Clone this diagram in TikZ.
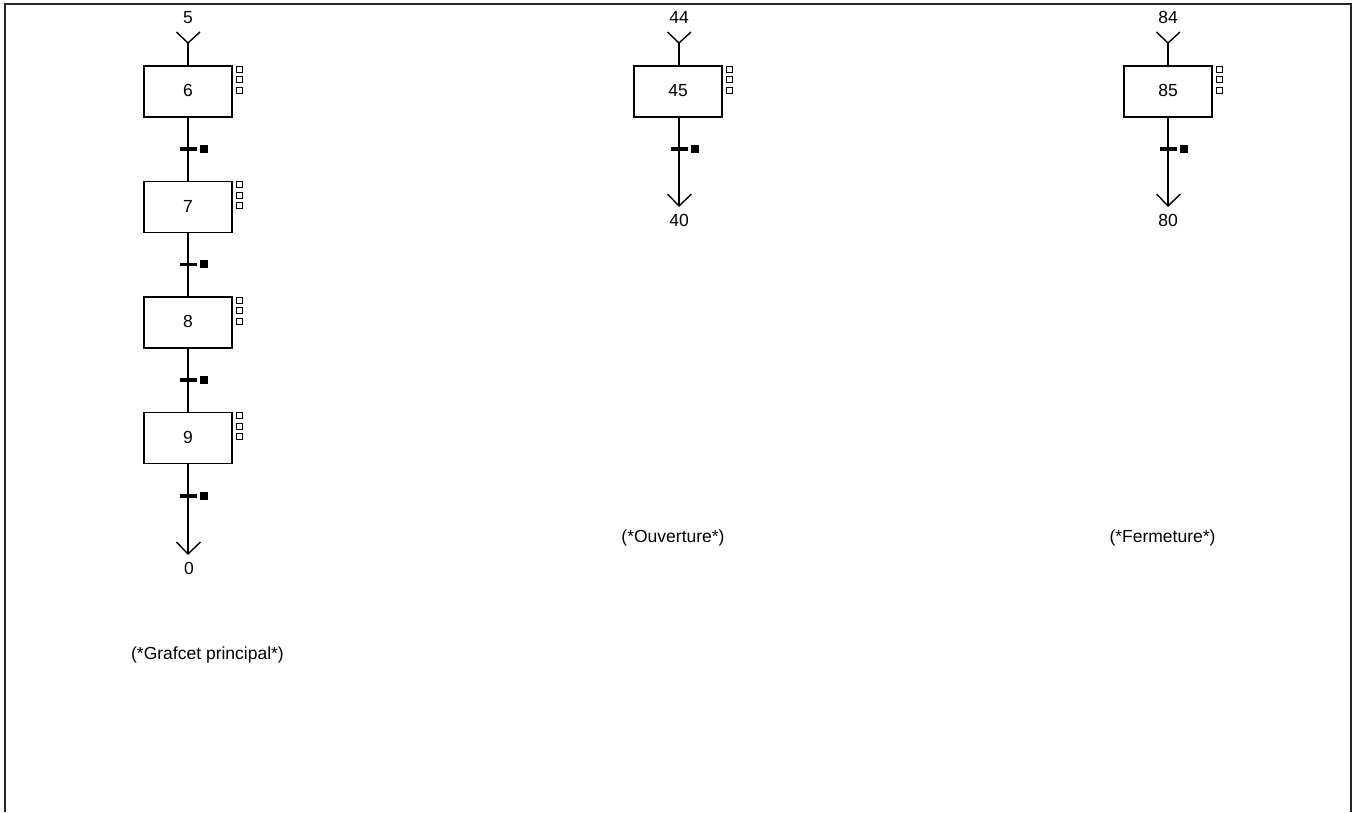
\documentclass[tikz,border=0pt]{standalone}
\usepackage{fontspec}
\setmainfont{Liberation Sans}
\begin{document}
\begin{tikzpicture}[x=1pt,y=-1pt,
  stepbox/.style={draw,line width=1.4pt,minimum width=88pt,minimum height=51pt,inner sep=0pt,font=\fontsize{17.5}{20}\selectfont},
  actsq/.style={draw,line width=1pt,minimum size=6pt,inner sep=0pt},
  trbar/.style={fill,minimum width=17pt,minimum height=3.2pt,inner sep=0pt},
  trsq/.style={fill,minimum size=8pt,inner sep=0pt},
  lbl/.style={font=\fontsize{17.5}{20}\selectfont,inner sep=0pt},
  wire/.style={line width=1.4pt},
]
\useasboundingbox (0,0) rectangle (1357,812);
\draw[line width=2pt,black!85] (5,812) -- (5,4) -- (1351,4) -- (1351,812);

% ---------- Column 1 ----------
\node[lbl] (l5) at (188,17.5) {5};
\coordinate (i1) at (188,43);
\coordinate (i1a) at (176.5,32);
\coordinate (i1b) at (200,32);
\node[stepbox] (s6) at (188,91.5) {\raisebox{2pt}{6}};
\node[stepbox] (s7) at (188,207) {\raisebox{2pt}{7}};
\node[stepbox] (s8) at (188,322.5) {\raisebox{2pt}{8}};
\node[stepbox] (s9) at (188,438) {\raisebox{2pt}{9}};
\coordinate (o1) at (188,554);
\coordinate (o1a) at (176.5,542);
\coordinate (o1b) at (200.5,542);
\node[lbl] (l0) at (189,568) {0};

\draw[wire] (i1a) -- (i1) -- (i1b);
\draw[wire] (i1) -- (s6.north);
\draw[wire] (s6) -- (s7);
\draw[wire] (s7) -- (s8);
\draw[wire] (s8) -- (s9);
\draw[wire] (s9.south) -- (o1);
\draw[wire] (o1a) -- (o1) -- (o1b);

\foreach \s in {s6,s7,s8,s9}{
  \node[actsq] (\s a) at ([xshift=7pt,yshift=-4pt]\s.north east) {};
  \node[actsq] (\s b) at ([xshift=7pt,yshift=-14.5pt]\s.north east) {};
  \node[actsq] (\s c) at ([xshift=7pt,yshift=-25pt]\s.north east) {};
}
\node[trbar] (t6) at (188.5,149) {};
\node[trsq] (t6s) at (204,148.5) {};
\node[trbar] (t7) at (188.5,264.5) {};
\node[trsq] (t7s) at (204,264) {};
\node[trbar] (t8) at (188.5,380) {};
\node[trsq] (t8s) at (204,379.5) {};
\node[trbar] (t9) at (188.5,496) {};
\node[trsq] (t9s) at (204,495.5) {};

\node[lbl] (c1) at (207.5,655) {(*Grafcet principal*)};

% ---------- Column 2 ----------
\node[lbl] (l44) at (679,17.5) {44};
\coordinate (i2) at (679,43);
\coordinate (i2a) at (667.5,32);
\coordinate (i2b) at (691,32);
\node[stepbox] (s45) at (678,91.5) {\raisebox{2pt}{45}};
\coordinate (o2) at (679,206);
\coordinate (o2a) at (667.5,194);
\coordinate (o2b) at (691.5,194);
\node[lbl] (l40) at (679,220) {40};
\draw[wire] (i2a) -- (i2) -- (i2b);
\draw[wire] (i2) -- (i2 |- s45.north);
\draw[wire] (i2 |- s45.south) -- (o2);
\draw[wire] (o2a) -- (o2) -- (o2b);
\node[actsq] (s45a) at ([xshift=7pt,yshift=-4pt]s45.north east) {};
\node[actsq] (s45b) at ([xshift=7pt,yshift=-14.5pt]s45.north east) {};
\node[actsq] (s45c) at ([xshift=7pt,yshift=-25pt]s45.north east) {};
\node[trbar] (t45) at (679.5,149) {};
\node[trsq] (t45s) at (695,148.5) {};
\node[lbl] (c2) at (673,537.5) {(*Ouverture*)};

% ---------- Column 3 ----------
\node[lbl] (l84) at (1168,17.5) {84};
\coordinate (i3) at (1168,43);
\coordinate (i3a) at (1156.5,32);
\coordinate (i3b) at (1180,32);
\node[stepbox] (s85) at (1168,91.5) {\raisebox{2pt}{85}};
\coordinate (o3) at (1168,206);
\coordinate (o3a) at (1156.5,194);
\coordinate (o3b) at (1180.5,194);
\node[lbl] (l80) at (1168,220) {80};
\draw[wire] (i3a) -- (i3) -- (i3b);
\draw[wire] (i3) -- (s85.north);
\draw[wire] (s85.south) -- (o3);
\draw[wire] (o3a) -- (o3) -- (o3b);
\node[actsq] (s85a) at ([xshift=7pt,yshift=-4pt]s85.north east) {};
\node[actsq] (s85b) at ([xshift=7pt,yshift=-14.5pt]s85.north east) {};
\node[actsq] (s85c) at ([xshift=7pt,yshift=-25pt]s85.north east) {};
\node[trbar] (t85) at (1168.5,149) {};
\node[trsq] (t85s) at (1184,148.5) {};
\node[lbl] (c3) at (1162.5,537.5) {(*Fermeture*)};
\end{tikzpicture}
\end{document}
